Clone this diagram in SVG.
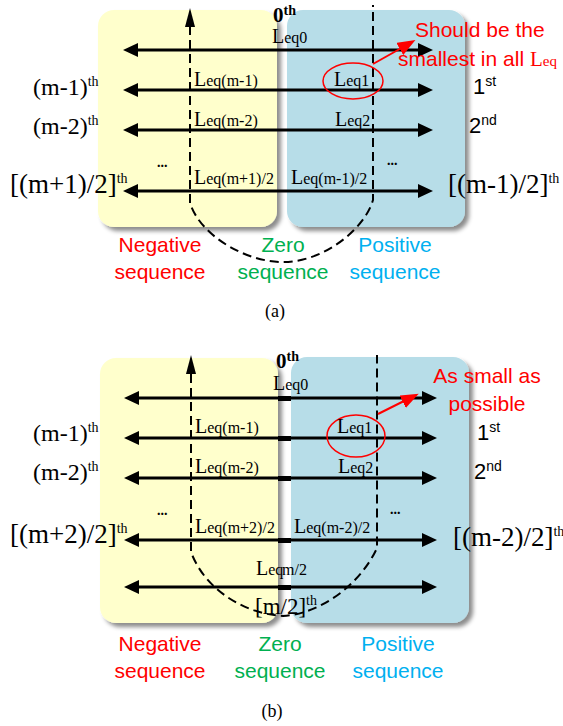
<svg xmlns="http://www.w3.org/2000/svg" width="563" height="726" viewBox="0 0 563 726">
<style>
.ser{font-family:"Liberation Serif","Times New Roman",serif;fill:#000}
.san{font-family:"Liberation Sans",Arial,sans-serif;fill:#000}
.L{font-size:20px}
.sub{font-size:16px}
.ord{font-size:24px}
.big{font-size:27px}
.sup{font-size:14px}
.red{fill:#FF0000}
.grn{fill:#00B050}
.blu{fill:#00B0F0}
.lab{font-family:"Liberation Sans",Arial,sans-serif;font-size:21px;text-anchor:middle}
.arr{stroke:#000;stroke-width:3;fill:none;marker-start:url(#ah);marker-end:url(#ah)}
.dash{stroke:#000;stroke-width:2;fill:none;stroke-dasharray:9 5}
.yel{fill:#FFFFCC;filter:url(#sh)}
.bl{fill:#B7DDE8;filter:url(#sh)}
</style>
<defs>
<filter id="sh" x="-10%" y="-10%" width="130%" height="130%">
<feDropShadow dx="4" dy="4" stdDeviation="2" flood-color="#000" flood-opacity="0.45"/>
</filter>
<marker id="ah" viewBox="0 0 15 14" refX="8" refY="7" markerWidth="15" markerHeight="14" markerUnits="userSpaceOnUse" orient="auto-start-reverse">
<path d="M0,0 L15,7 L0,14 z" fill="#000"/>
</marker>
<marker id="rh" viewBox="0 0 18 14" refX="6" refY="7" markerWidth="18" markerHeight="14" markerUnits="userSpaceOnUse" orient="auto">
<path d="M0,0 L18,7 L0,14 z" fill="#FF0000"/>
</marker>
</defs>

<!-- ===== Panel (a) ===== -->
<g id="a-negative"><rect class="yel" x="98" y="10" width="179" height="217" rx="16"/></g>
<g id="a-positive"><rect class="bl" x="287" y="10" width="178" height="217" rx="16"/></g>

<g id="a-connectors">
<path class="dash" d="M190,26 L190,203 C200,235 245,262 283,262 C325,262 365,228 373,200 L373,5"/>
<polygon points="190,8 185,27 195,27" fill="#000"/>
<path class="arr" d="M130,50 L426,50"/>
<path class="arr" d="M130,90 L426,90"/>
<path class="arr" d="M130,130 L426,130"/>
<path class="arr" d="M130,191 L426,191"/>
<ellipse cx="353" cy="81" rx="30" ry="18" fill="none" stroke="#FF0000" stroke-width="1.5"/>
<path d="M373,64 L405,46" stroke="#FF0000" stroke-width="2" fill="none" marker-end="url(#rh)"/>
</g>

<g id="a-labels">
<text class="ser" x="273" y="22" font-weight="bold" font-size="21">0<tspan font-size="14" dy="-7">th</tspan></text>
<text class="ser L" x="272" y="43">L<tspan class="sub">eq0</tspan></text>
<text class="ser L" x="194" y="86">L<tspan class="sub">eq(m-1)</tspan></text>
<text class="ser L" x="194" y="126">L<tspan class="sub">eq(m-2)</tspan></text>
<text class="ser L" x="194" y="184">L<tspan class="sub">eq(m+1)/2</tspan></text>
<text class="ser L" x="334" y="86">L<tspan class="sub">eq1</tspan></text>
<text class="ser L" x="335" y="126">L<tspan class="sub">eq2</tspan></text>
<text class="ser L" x="291" y="184">L<tspan class="sub">eq(m-1)/2</tspan></text>
<text class="ser" x="157" y="167" font-size="14" font-weight="bold">...</text>
<text class="ser" x="387" y="165" font-size="14" font-weight="bold">...</text>
<text class="ser ord" x="33" y="95">(m-1)<tspan class="sup" dy="-9">th</tspan></text>
<text class="ser ord" x="33" y="134">(m-2)<tspan class="sup" dy="-9">th</tspan></text>
<text class="ser big" x="10" y="193">[(m+1)/2]<tspan class="sup" dy="-10">th</tspan></text>
<text class="san" x="473" y="94" font-size="22">1<tspan class="sup" dy="-8">st</tspan></text>
<text class="san" x="469" y="133" font-size="22">2<tspan class="sup" dy="-8">nd</tspan></text>
<text class="ser big" x="448" y="193">[(m-1)/2]<tspan class="sup" dy="-10">th</tspan></text>
<text class="san red" x="415" y="37" font-size="21">Should be the</text>
<text class="san red" x="398" y="66" font-size="21">smallest in all <tspan class="ser red" font-size="21">L</tspan><tspan class="ser red" font-size="15">eq</tspan></text>
<text class="lab red" x="160" y="252">Negative</text>
<text class="lab red" x="160" y="279">sequence</text>
<text class="lab grn" x="283" y="252">Zero</text>
<text class="lab grn" x="283" y="279">sequence</text>
<text class="lab blu" x="395" y="252">Positive</text>
<text class="lab blu" x="395" y="279">sequence</text>
<text class="ser" x="275" y="317" font-size="18" text-anchor="middle">(a)</text>
</g>

<!-- ===== Panel (b) ===== -->
<g id="b-negative"><rect class="yel" x="100" y="358" width="178" height="265" rx="16"/></g>
<g id="b-positive"><rect class="bl" x="291" y="357" width="178" height="266" rx="16"/></g>

<g id="b-connectors">
<path class="dash" d="M191,374 L191,552 C205,590 245,614 283,616 C320,614 360,585 377,548 L377,355"/>
<polygon points="191,355 186,374 196,374" fill="#000"/>
<path class="arr" d="M131,398 L430,398"/>
<path class="arr" d="M131,438 L430,438"/>
<path class="arr" d="M131,478 L430,478"/>
<path class="arr" d="M131,540 L430,540"/>
<path class="arr" d="M131,587 L430,587"/>
<g fill="#000">
<rect x="278" y="396" width="13" height="5"/>
<rect x="278" y="436" width="13" height="5"/>
<rect x="278" y="476" width="13" height="5"/>
<rect x="278" y="538" width="13" height="5"/>
<rect x="278" y="585" width="13" height="5"/>
</g>
<ellipse cx="356" cy="436" rx="29" ry="21" fill="none" stroke="#FF0000" stroke-width="1.5"/>
<path d="M378,414 L408,399" stroke="#FF0000" stroke-width="2" fill="none" marker-end="url(#rh)"/>
</g>

<g id="b-labels">
<text class="ser" x="276" y="368" font-weight="bold" font-size="21">0<tspan font-size="14" dy="-7">th</tspan></text>
<text class="ser L" x="273" y="390">L<tspan class="sub">eq0</tspan></text>
<text class="ser L" x="195" y="433">L<tspan class="sub">eq(m-1)</tspan></text>
<text class="ser L" x="195" y="473">L<tspan class="sub">eq(m-2)</tspan></text>
<text class="ser L" x="195" y="533">L<tspan class="sub">eq(m+2)/2</tspan></text>
<text class="ser L" x="337" y="433">L<tspan class="sub">eq1</tspan></text>
<text class="ser L" x="338" y="473">L<tspan class="sub">eq2</tspan></text>
<text class="ser L" x="294" y="533">L<tspan class="sub">eq(m-2)/2</tspan></text>
<text class="ser L" x="256" y="575">L<tspan class="sub">eq</tspan><tspan class="sub" x="282">m/2</tspan></text>
<text class="ser" x="255" y="614" font-size="23">[m/2]<tspan class="sup" dy="-9">th</tspan></text>
<text class="ser" x="157" y="515" font-size="14" font-weight="bold">...</text>
<text class="ser" x="390" y="514" font-size="14" font-weight="bold">...</text>
<text class="ser ord" x="33" y="441">(m-1)<tspan class="sup" dy="-9">th</tspan></text>
<text class="ser ord" x="33" y="480">(m-2)<tspan class="sup" dy="-9">th</tspan></text>
<text class="ser big" x="10" y="543">[(m+2)/2]<tspan class="sup" dy="-10">th</tspan></text>
<text class="san" x="477" y="440" font-size="22">1<tspan class="sup" dy="-8">st</tspan></text>
<text class="san" x="474" y="479" font-size="22">2<tspan class="sup" dy="-8">nd</tspan></text>
<text class="ser big" x="453" y="546">[(m-2)/2]<tspan class="sup" dy="-10">th</tspan></text>
<text class="san red" x="487" y="383" font-size="21" text-anchor="middle">As small as</text>
<text class="san red" x="487" y="411" font-size="21" text-anchor="middle">possible</text>
<text class="lab red" x="160" y="651">Negative</text>
<text class="lab red" x="160" y="678">sequence</text>
<text class="lab grn" x="280" y="651">Zero</text>
<text class="lab grn" x="280" y="678">sequence</text>
<text class="lab blu" x="398" y="651">Positive</text>
<text class="lab blu" x="398" y="678">sequence</text>
<text class="ser" x="272" y="717" font-size="18" text-anchor="middle">(b)</text>
</g>
</svg>
